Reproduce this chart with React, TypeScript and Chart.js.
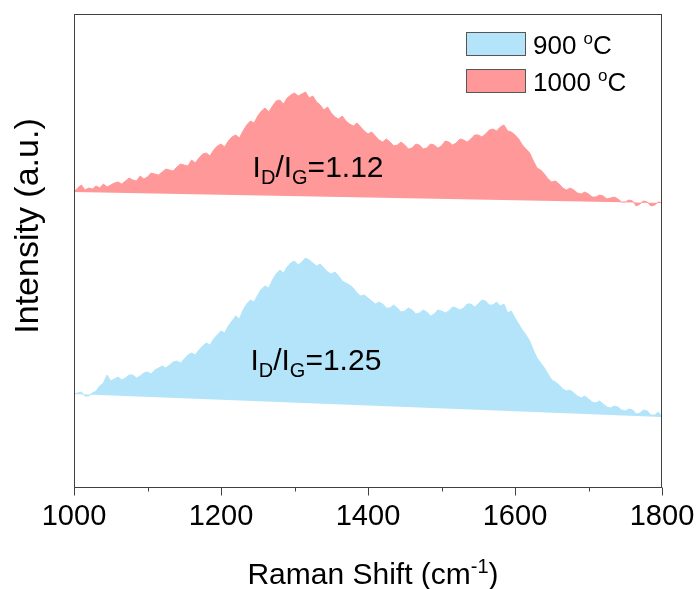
import { useEffect, useRef } from 'react';
import { Chart, registerables } from 'chart.js';

Chart.register(...registerables);

// Raman shift (cm^-1)
const ramanShift = [
  1000, 1005, 1010, 1015, 1020, 1025, 1030, 1035, 1040, 1045,
  1050, 1055, 1060, 1065, 1070, 1075, 1080, 1085, 1090, 1095,
  1100, 1105, 1110, 1115, 1120, 1125, 1130, 1135, 1140, 1145,
  1150, 1155, 1160, 1165, 1170, 1175, 1180, 1185, 1190, 1195,
  1200, 1205, 1210, 1215, 1220, 1225, 1230, 1235, 1240, 1245,
  1250, 1255, 1260, 1265, 1270, 1275, 1280, 1285, 1290, 1295,
  1300, 1305, 1310, 1315, 1320, 1325, 1330, 1335, 1340, 1345,
  1350, 1355, 1360, 1365, 1370, 1375, 1380, 1385, 1390, 1395,
  1400, 1405, 1410, 1415, 1420, 1425, 1430, 1435, 1440, 1445,
  1450, 1455, 1460, 1465, 1470, 1475, 1480, 1485, 1490, 1495,
  1500, 1505, 1510, 1515, 1520, 1525, 1530, 1535, 1540, 1545,
  1550, 1555, 1560, 1565, 1570, 1575, 1580, 1585, 1590, 1595,
  1600, 1605, 1610, 1615, 1620, 1625, 1630, 1635, 1640, 1645,
  1650, 1655, 1660, 1665, 1670, 1675, 1680, 1685, 1690, 1695,
  1700, 1705, 1710, 1715, 1720, 1725, 1730, 1735, 1740, 1745,
  1750, 1755, 1760, 1765, 1770, 1775, 1780, 1785, 1790, 1795,
  1800,
];

// 900 °C spectrum (offset, a.u.)
const intensity900 = [
  93, 94, 95, 91, 91, 94, 96, 101, 104, 112,
  106, 108, 110, 107, 109, 112, 112, 109, 111, 114,
  115, 113, 117, 119, 121, 119, 122, 125, 126, 124,
  128, 132, 134, 132, 137, 141, 144, 142, 148, 152,
  156, 154, 161, 166, 171, 168, 177, 183, 187, 185,
  192, 198, 201, 199, 207, 213, 217, 214, 220, 224,
  226, 222, 225, 229, 227, 224, 221, 223, 219, 215,
  213, 215, 211, 206, 204, 202, 199, 194, 191, 192,
  189, 186, 183, 185, 183, 179, 179, 182, 179, 175,
  176, 179, 177, 173, 174, 177, 175, 171, 173, 177,
  176, 174, 176, 180, 179, 177, 179, 183, 183, 180,
  183, 187, 186, 182, 182, 185, 181, 183, 174, 176,
  169, 163, 157, 152, 146, 137, 129, 124, 119, 113,
  107, 105, 102, 98, 96, 97, 94, 91, 89, 91,
  88, 85, 84, 86, 83, 80, 79, 81, 80, 77,
  76, 78, 77, 73, 74, 77, 76, 72, 72, 75,
  70,
];

// 1000 °C spectrum (offset, a.u.)
const intensity1000 = [
  295, 299, 302, 297, 299, 298, 301, 299, 303, 300,
  302, 304, 305, 303, 306, 309, 307, 306, 311, 308,
  310, 314, 313, 312, 315, 318, 317, 316, 320, 323,
  322, 321, 327, 324, 329, 333, 334, 331, 337, 341,
  343, 340, 346, 350, 352, 349, 356, 362, 366, 364,
  371, 376, 379, 375, 381, 386, 387, 383, 389, 392,
  394, 391, 393, 395, 389, 391, 385, 382, 377, 380,
  374, 370, 368, 371, 366, 363, 361, 364, 360, 356,
  353, 355, 351, 347, 345, 348, 345, 341, 342, 345,
  342, 338, 339, 343, 342, 338, 339, 343, 342, 339,
  341, 346, 345, 342, 344, 348, 347, 345, 348, 352,
  352, 350, 353, 357, 358, 356, 360, 362, 356, 355,
  352, 348, 342, 338, 334, 326, 319, 317, 313, 308,
  305, 306, 303, 299, 297, 299, 297, 294, 293, 295,
  293, 290, 290, 292, 291, 288, 289, 290, 288, 285,
  285, 287, 286, 281, 283, 286, 285, 281, 282, 285,
  284,
];

const seriesTemps = ['900', '1000'];
const ratioValues = ['1.25', '1.12'];
const xTickLabelValues = [1000, 1200, 1400, 1600, 1800];

const BLUE = '#B3E4FA';
const RED = '#FF9999';
const AXIS = '#404040';
const FONT = "'Liberation Sans', Arial, sans-serif";

type Part = { t: string; m?: 'sub' | 'sup' };

function drawRich(ctx: CanvasRenderingContext2D, parts: Part[], x: number, y: number, size: number, align: 'left' | 'center') {
  const small = Math.round(size * 0.66);
  let w = 0;
  for (const p of parts) {
    ctx.font = `${p.m ? small : size}px ${FONT}`;
    w += ctx.measureText(p.t).width;
  }
  let cx = align === 'center' ? x - w / 2 : x;
  ctx.textAlign = 'left';
  ctx.textBaseline = 'alphabetic';
  for (const p of parts) {
    ctx.font = `${p.m ? small : size}px ${FONT}`;
    const dy = p.m === 'sub' ? size * 0.23 : p.m === 'sup' ? -size * 0.37 : 0;
    ctx.fillText(p.t, cx, y + dy);
    cx += ctx.measureText(p.t).width;
  }
}

const decorPlugin = {
  id: 'decor',
  afterDraw(chart: any) {
    const { ctx, chartArea, scales } = chart;
    const xs = scales.x;
    const ys = scales.y;
    ctx.save();
    // frame
    ctx.strokeStyle = AXIS;
    ctx.lineWidth = 1;
    ctx.strokeRect(Math.round(chartArea.left) + 0.5, Math.round(chartArea.top) + 0.5,
      Math.round(chartArea.right - chartArea.left) - 1, Math.round(chartArea.bottom - chartArea.top));
    // x ticks (major + minor)
    const b = Math.round(chartArea.bottom) + 0.5;
    for (const t of xs.ticks) {
      const px = Math.round(xs.getPixelForValue(t.value)) + 0.5;
      const major = xTickLabelValues.includes(t.value);
      ctx.beginPath();
      ctx.moveTo(px, b);
      ctx.lineTo(px, b + (major ? 8 : 4));
      ctx.stroke();
    }
    ctx.fillStyle = '#000';
    // annotations I_D/I_G
    const ann = [
      { x: 1240, y: 117, v: ratioValues[0] },
      { x: 1243, y: 310, v: ratioValues[1] },
    ];
    for (const a of ann) {
      drawRich(ctx, [{ t: 'I' }, { t: 'D', m: 'sub' }, { t: '/I' }, { t: 'G', m: 'sub' }, { t: '=' + a.v }],
        xs.getPixelForValue(a.x), ys.getPixelForValue(a.y), 30, 'left');
    }
    // x title
    drawRich(ctx, [{ t: 'Raman Shift (cm' }, { t: '-1', m: 'sup' }, { t: ')' }], 373, 584, 30, 'center');
    // y title
    ctx.save();
    ctx.translate(29, 226);
    ctx.rotate(-Math.PI / 2);
    ctx.font = `34px ${FONT}`;
    ctx.textAlign = 'center';
    ctx.textBaseline = 'middle';
    ctx.fillText('Intensity (a.u.)', 0, 0);
    ctx.restore();
    // legend
    const items = [
      { c: BLUE, t: seriesTemps[0], top: 32 },
      { c: RED, t: seriesTemps[1], top: 69 },
    ];
    for (const it of items) {
      ctx.fillStyle = it.c;
      ctx.fillRect(466, it.top, 60, 24);
      ctx.strokeStyle = '#555';
      ctx.strokeRect(466.5, it.top + 0.5, 59, 23);
      ctx.fillStyle = '#000';
      drawRich(ctx, [{ t: it.t + ' ' }, { t: 'o', m: 'sup' }, { t: 'C' }], 533, it.top + 22, 26, 'left');
    }
    ctx.restore();
  },
};

export default function App() {
  const ref = useRef<HTMLCanvasElement>(null);
  useEffect(() => {
    const n = ramanShift.length - 1;
    const chart = new Chart(ref.current!, {
      type: 'line',
      data: {
        datasets: [
          {
            label: seriesTemps[1],
            data: ramanShift.map((x, i) => ({ x, y: intensity1000[i] })),
            borderColor: RED,
            backgroundColor: RED,
            borderWidth: 1,
            pointRadius: 0,
            fill: '+1',
          },
          {
            label: 'base1000',
            data: [{ x: ramanShift[0], y: intensity1000[0] }, { x: ramanShift[n], y: intensity1000[n] }],
            borderColor: 'rgba(0,0,0,0)',
            borderWidth: 0,
            pointRadius: 0,
            fill: false,
          },
          {
            label: seriesTemps[0],
            data: ramanShift.map((x, i) => ({ x, y: intensity900[i] })),
            borderColor: BLUE,
            backgroundColor: BLUE,
            borderWidth: 1,
            pointRadius: 0,
            fill: '+1',
          },
          {
            label: 'base900',
            data: [{ x: ramanShift[0], y: intensity900[0] }, { x: ramanShift[n], y: intensity900[n] }],
            borderColor: 'rgba(0,0,0,0)',
            borderWidth: 0,
            pointRadius: 0,
            fill: false,
          },
        ],
      },
      options: {
        animation: false,
        responsive: true,
        maintainAspectRatio: false,
        layout: { padding: { left: 74, top: 14, right: 38, bottom: 0 } },
        plugins: { legend: { display: false }, tooltip: { enabled: false } },
        scales: {
          x: {
            type: 'linear',
            min: 1000,
            max: 1800,
            grid: { display: false, drawTicks: false },
            border: { display: false },
            ticks: {
              stepSize: 100,
              autoSkip: false,
              maxRotation: 0,
              padding: 13,
              color: '#000',
              font: { family: FONT, size: 29 },
              callback: (v: any) => (xTickLabelValues.includes(Number(v)) ? String(v) : ''),
            },
            afterFit: (s: any) => { s.height = 102; s.paddingLeft = 0; s.paddingRight = 0; },
          },
          y: {
            type: 'linear',
            display: false,
            min: 0,
            max: 473,
          },
        },
      },
      plugins: [decorPlugin],
    } as any);
    return () => chart.destroy();
  }, []);
  return (
    <div style={{ position: 'absolute', left: 0, top: 0, width: 700, height: 589 }}>
      <canvas ref={ref} />
    </div>
  );
}
